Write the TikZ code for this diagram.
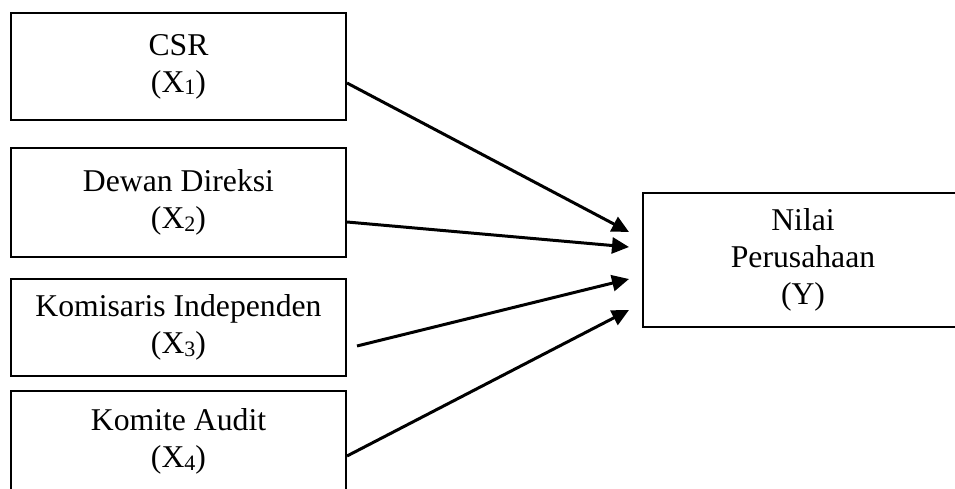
\documentclass[tikz,border=0pt]{standalone}
\usepackage{fontspec}
\setmainfont{Liberation Serif}
\usetikzlibrary{arrows.meta}
\newcommand{\subx}[1]{\raisebox{-2.5pt}{\fontsize{22}{22}\selectfont #1}}
\begin{document}
\begin{tikzpicture}[x=1pt,y=-1pt,
  varbox/.style={draw, line width=2.4pt, rectangle, inner sep=0pt, align=center,
    font=\fontsize{31.7}{37}\selectfont, minimum width=335pt},
  link/.style={line width=3pt, -{Triangle[length=17pt,width=16pt]}}]
\useasboundingbox (0,0) rectangle (955,489);
\begin{scope}
\clip (0,0) rectangle (955,489);
\node[varbox, minimum height=107pt] (b1) at (178.5,66.5) {CSR\\(X\subx{1})};
\node[varbox, minimum height=109pt] (b2) at (178.5,202.5) {Dewan Direksi\\(X\subx{2})};
\node[varbox, minimum height=97pt] (b3) at (178.5,327.5) {Komisaris Independen\\(X\subx{3})};
\node[varbox, minimum height=101pt] (b4) at (178.5,441.5) {Komite Audit\\(X\subx{4})};
\node[varbox, minimum width=320pt, minimum height=134pt] (y) at (803,260) {Nilai\\Perusahaan\\(Y)};
\end{scope}
\coordinate (s1) at (347,83);
\coordinate (s2) at (347,222);
\coordinate (s3) at (357,346);
\coordinate (s4) at (347,456);
\coordinate (t1) at (629,232);
\coordinate (t2) at (629,247);
\coordinate (t3) at (629,279);
\coordinate (t4) at (629,310);
\draw[link] (s1) -- (t1);
\draw[link] (s2) -- (t2);
\draw[link] (s3) -- (t3);
\draw[link] (s4) -- (t4);
\end{tikzpicture}
\end{document}
